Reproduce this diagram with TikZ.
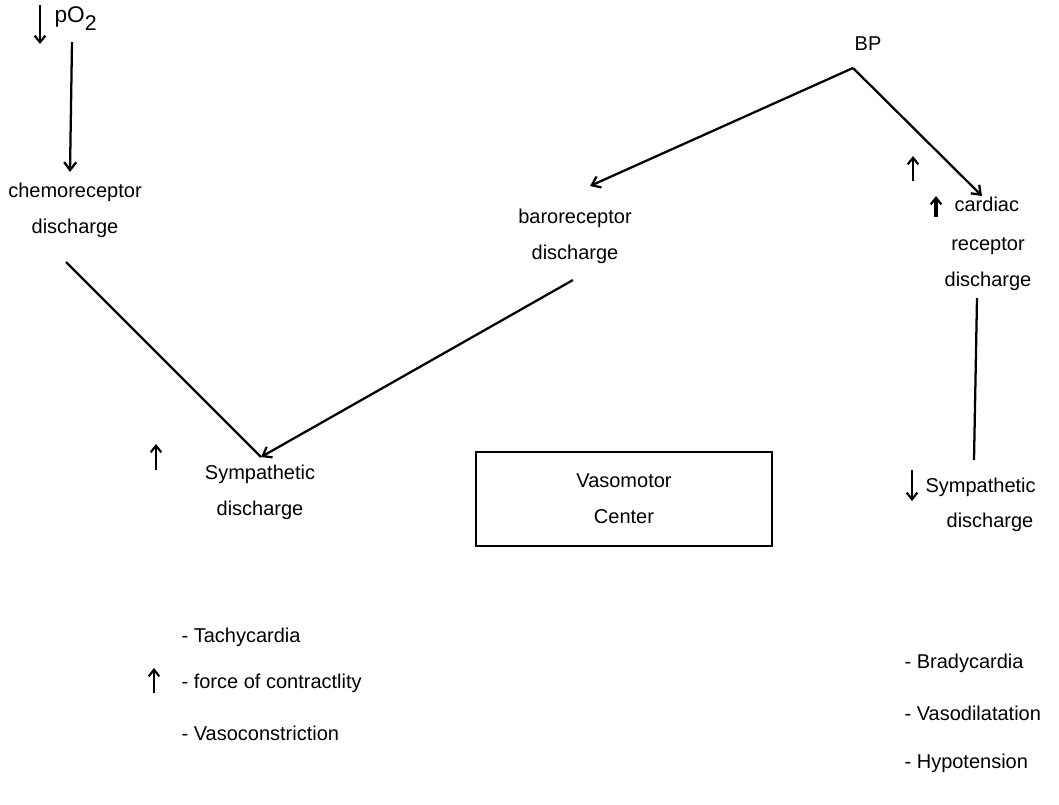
\documentclass[tikz,border=0pt]{standalone}
\usepackage{fontspec}
\setmainfont{Liberation Sans}
\usetikzlibrary{arrows.meta}
\begin{document}
\begin{tikzpicture}[x=0.75pt,y=-0.75pt,
  lbl/.style={font=\fontsize{15}{18}\selectfont, inner sep=1pt, align=center},
  lst/.style={font=\fontsize{15}{18}\selectfont, inner sep=1pt, anchor=west},
  conn/.style={line width=1.7pt, -{Straight Barb[length=6pt,width=9pt,line width=1.7pt]}},
  plain/.style={line width=1.7pt},
  updown/.style={line width=1.8pt, -{Straight Barb[length=5pt,width=8pt,line width=1.6pt]}}]
\useasboundingbox (0,0) rectangle (1059,804);
% nodes
\node[font=\fontsize{17}{20}\selectfont, inner sep=1pt, anchor=west] (po2) at (53,19) {pO\raisebox{-6pt}{\fontsize{16}{18}\selectfont 2}};
\node[lbl] (chemo) at (75,210) {chemoreceptor\\[9pt]discharge};
\node[lbl] (bp) at (868,44) {BP};
\coordinate (apex) at (853,68);
\node[lbl] (baro) at (575,236) {baroreceptor\\[9pt]discharge};
\node[lbl, anchor=west] (cardiac) at (953,204) {cardiac};
\node[lbl] (cardrest) at (988,264) {receptor\\[9pt]discharge};
\node[lbl] (symL) at (260,492) {Sympathetic\\[9pt]discharge};
\node[lbl, anchor=west] (symR) at (924,487) {Sympathetic};
\node[lbl] (symR2) at (990,522) {discharge};
\node[draw, line width=1.7pt, minimum width=296*0.75pt, minimum height=94*0.75pt, lbl] (vmc) at (624,499) {Vasomotor\\[9pt]Center};
\node[lst] (t1) at (180,637) {- Tachycardia};
\node[lst] (t2) at (180,683) {- force of contractlity};
\node[lst] (t3) at (180,733) {- Vasoconstriction};
\node[lst] (r1) at (903,663) {- Bradycardia};
\node[lst] (r2) at (903,713) {- Vasodilatation};
\node[lst] (r3) at (903,763) {- Hypotension};
% connectors
\coordinate (po2a) at (72,42);
\coordinate (chemoTop) at (70,172);
\draw[conn] (po2a) -- (chemoTop);
\coordinate (baroTop) at (590,186);
\coordinate (cardTop) at (982,196);
\draw[conn] (apex) -- (baroTop);
\draw[conn] (apex) -- (cardTop);
\coordinate (chemoBot) at (66,262);
\coordinate (baroBot) at (573,280);
\coordinate (symTop) at (261,457);
\draw[plain] (chemoBot) -- (symTop);
\draw[conn] (baroBot) -- (symTop);
\coordinate (cardBot) at (977,298);
\coordinate (symRTop) at (974,460);
\draw[plain] (cardBot) -- (symRTop);
% small up/down marks
\draw[updown] (40,5) -- (40,44);
\draw[updown] (156,470) -- (156,444);
\draw[updown] (913,181) -- (913,156);
\draw[updown, line width=2.6pt] (936,217) -- (936,196);
\draw[updown] (912,470) -- (912,501);
\draw[updown] (154,693) -- (154,668);
\end{tikzpicture}
\end{document}
